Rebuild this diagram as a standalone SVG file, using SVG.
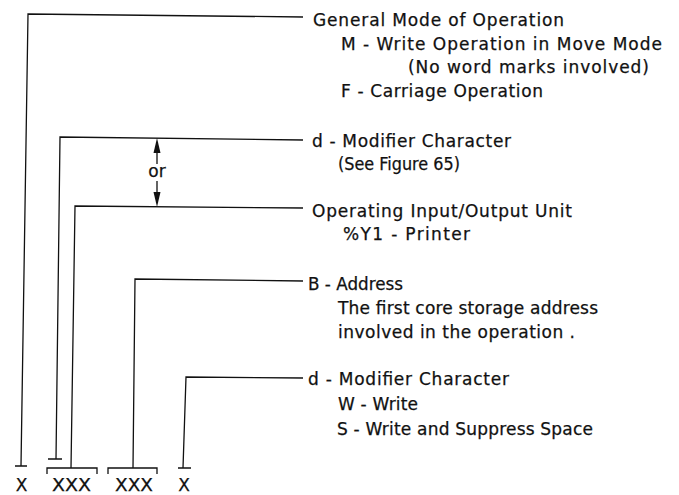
<svg xmlns="http://www.w3.org/2000/svg" width="679" height="495" viewBox="0 0 679 495">
<style>
.t{font-family:"DejaVu Sans","Liberation Sans",Arial,sans-serif;font-size:17px;fill:#111;stroke:#111;stroke-width:0.25}
.c{fill:none;stroke:#111;stroke-width:1.3}
.a{fill:#111}
</style>
<rect width="679" height="495" fill="#fff"/>
<g id="connectors">
<path class="c" d="M303,17 L28,14 L21,466 M15,466 H27"/>
<path class="c" d="M303,140 L60,137 L56,459 M48,459 H62"/>
<path class="c" d="M303,208 L75,206 L71,468 M47,474 V468 H97 V474"/>
<path class="c" d="M303,281 L135,279 L133,468 M108,474 V468 H157 V474"/>
<path class="c" d="M303,378 L186,377 L183,468 M178,468 H191"/>
<g id="or-arrow">
<path class="c" d="M157,152 V164 M157,181 V193"/>
<polygon class="a" points="157,138 153.5,153 160.5,153"/>
<polygon class="a" points="157,207 153.5,192 160.5,192"/>
<text class="t" x="157" y="177" text-anchor="middle">or</text>
</g>
</g>
<g id="general-mode">
<text class="t" x="313" y="26" textLength="251" lengthAdjust="spacing">General Mode of Operation</text>
<text class="t" x="341" y="50" textLength="321" lengthAdjust="spacing">M - Write Operation in Move Mode</text>
<text class="t" x="408" y="73" textLength="241" lengthAdjust="spacing">(No word marks involved)</text>
<text class="t" x="341" y="97" textLength="202" lengthAdjust="spacing">F - Carriage Operation</text>
</g>
<g id="d-modifier-1">
<text class="t" x="312" y="147" textLength="199" lengthAdjust="spacing">d - Modifier Character</text>
<text class="t" x="338" y="170" font-size="16" textLength="122" lengthAdjust="spacingAndGlyphs">(See Figure 65)</text>
</g>
<g id="io-unit">
<text class="t" x="312" y="217" textLength="260" lengthAdjust="spacing">Operating Input/Output Unit</text>
<text class="t" x="343" y="240" textLength="127" lengthAdjust="spacing">%Y1 - Printer</text>
</g>
<g id="b-address">
<text class="t" x="308" y="290" textLength="95" lengthAdjust="spacingAndGlyphs">B - Address</text>
<text class="t" x="338" y="314" textLength="260" lengthAdjust="spacing">The first core storage address</text>
<text class="t" x="338" y="338" textLength="237" lengthAdjust="spacing">involved in the operation .</text>
</g>
<g id="d-modifier-2">
<text class="t" x="308" y="385" textLength="201" lengthAdjust="spacing">d - Modifier Character</text>
<text class="t" x="338" y="410" textLength="80" lengthAdjust="spacing">W - Write</text>
<text class="t" x="337" y="435" textLength="256" lengthAdjust="spacing">S - Write and Suppress Space</text>
</g>
<g id="format">
<text class="t" x="21.5" y="491" text-anchor="middle" font-size="18">X</text>
<text class="t" x="52" y="491" font-size="18" textLength="39" lengthAdjust="spacingAndGlyphs">XXX</text>
<text class="t" x="115" y="491" font-size="18" textLength="38" lengthAdjust="spacingAndGlyphs">XXX</text>
<text class="t" x="184" y="491" text-anchor="middle" font-size="18">X</text>
</g>
</svg>
